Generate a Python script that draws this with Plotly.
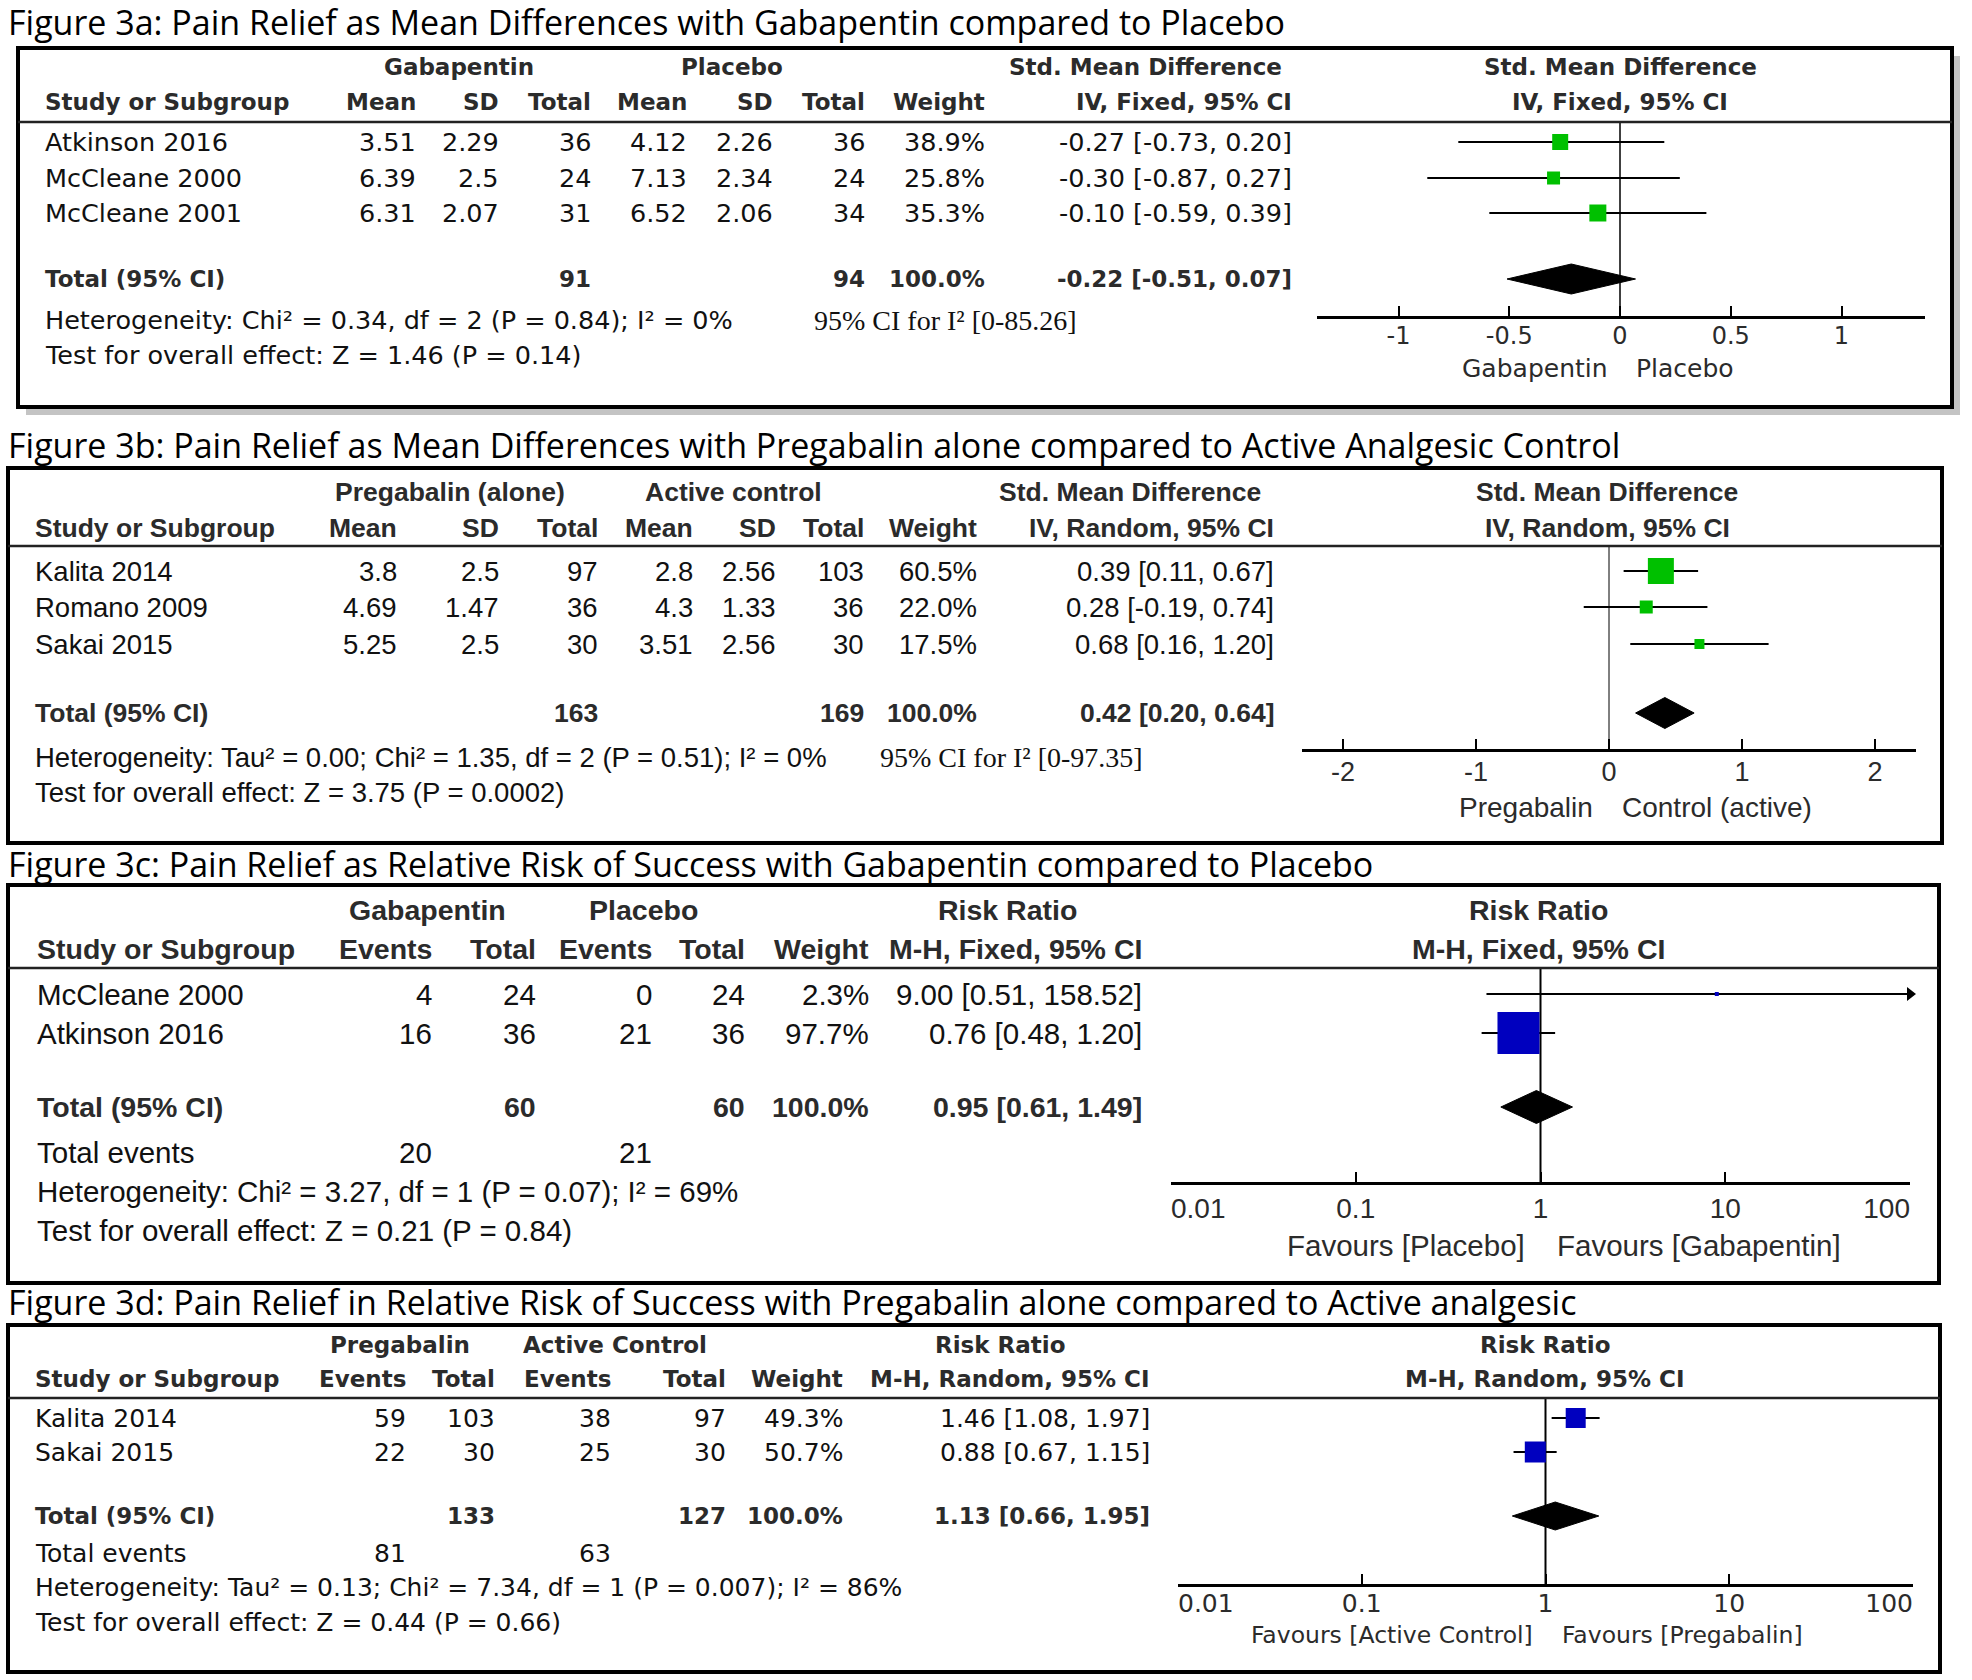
import math
import plotly.graph_objects as go

W, H = 1972, 1680

# ======================= DATA =======================
# Figure 3a
a_title = "Figure 3a: Pain Relief as Mean Differences with Gabapentin compared to Placebo"
a_groups = ["Gabapentin", "Placebo"]
a_cols = ["Mean", "SD", "Total", "Mean", "SD", "Total", "Weight"]
a_measure = "Std. Mean Difference"
a_method = "IV, Fixed, 95% CI"
a_studies = ["Atkinson 2016", "McCleane 2000", "McCleane 2001"]
a_gaba_mean = [3.51, 6.39, 6.31]
a_gaba_sd = [2.29, 2.5, 2.07]
a_gaba_n = [36, 24, 31]
a_plac_mean = [4.12, 7.13, 6.52]
a_plac_sd = [2.26, 2.34, 2.06]
a_plac_n = [36, 24, 34]
a_weight = [38.9, 25.8, 35.3]
a_est = [-0.27, -0.30, -0.10]
a_lo = [-0.73, -0.87, -0.59]
a_hi = [0.20, 0.27, 0.39]
a_total_n = [91, 94]
a_total = [-0.22, -0.51, 0.07]
a_het = "Heterogeneity: Chi² = 0.34, df = 2 (P = 0.84); I² = 0%"
a_test = "Test for overall effect: Z = 1.46 (P = 0.14)"
a_ci_i2 = "95% CI for I² [0-85.26]"
a_ticks = [-1, -0.5, 0, 0.5, 1]
a_ticklabels = ["-1", "-0.5", "0", "0.5", "1"]
a_sides = ["Gabapentin", "Placebo"]

# Figure 3b
b_title = "Figure 3b: Pain Relief as Mean Differences with Pregabalin alone compared to Active Analgesic Control"
b_groups = ["Pregabalin (alone)", "Active control"]
b_cols = ["Mean", "SD", "Total", "Mean", "SD", "Total", "Weight"]
b_measure = "Std. Mean Difference"
b_method = "IV, Random, 95% CI"
b_studies = ["Kalita 2014", "Romano 2009", "Sakai 2015"]
b_preg_mean = [3.8, 4.69, 5.25]
b_preg_sd = [2.5, 1.47, 2.5]
b_preg_n = [97, 36, 30]
b_act_mean = [2.8, 4.3, 3.51]
b_act_sd = [2.56, 1.33, 2.56]
b_act_n = [103, 36, 30]
b_weight = [60.5, 22.0, 17.5]
b_est = [0.39, 0.28, 0.68]
b_lo = [0.11, -0.19, 0.16]
b_hi = [0.67, 0.74, 1.20]
b_total_n = [163, 169]
b_total = [0.42, 0.20, 0.64]
b_het = "Heterogeneity: Tau² = 0.00; Chi² = 1.35, df = 2 (P = 0.51); I² = 0%"
b_test = "Test for overall effect: Z = 3.75 (P = 0.0002)"
b_ci_i2 = "95% CI for I² [0-97.35]"
b_ticks = [-2, -1, 0, 1, 2]
b_ticklabels = ["-2", "-1", "0", "1", "2"]
b_sides = ["Pregabalin", "Control (active)"]

# Figure 3c
c_title = "Figure 3c: Pain Relief as Relative Risk of Success with Gabapentin compared to Placebo"
c_groups = ["Gabapentin", "Placebo"]
c_cols = ["Events", "Total", "Events", "Total", "Weight"]
c_measure = "Risk Ratio"
c_method = "M-H, Fixed, 95% CI"
c_studies = ["McCleane 2000", "Atkinson 2016"]
c_gaba_events = [4, 16]
c_gaba_n = [24, 36]
c_plac_events = [0, 21]
c_plac_n = [24, 36]
c_weight = [2.3, 97.7]
c_est = [9.00, 0.76]
c_lo = [0.51, 0.48]
c_hi = [158.52, 1.20]
c_total_n = [60, 60]
c_total_events = [20, 21]
c_total = [0.95, 0.61, 1.49]
c_het = "Heterogeneity: Chi² = 3.27, df = 1 (P = 0.07); I² = 69%"
c_test = "Test for overall effect: Z = 0.21 (P = 0.84)"
c_ticks = [0.01, 0.1, 1, 10, 100]
c_ticklabels = ["0.01", "0.1", "1", "10", "100"]
c_sides = ["Favours [Placebo]", "Favours [Gabapentin]"]

# Figure 3d
d_title = "Figure 3d: Pain Relief in Relative Risk of Success with Pregabalin alone compared to Active analgesic"
d_groups = ["Pregabalin", "Active Control"]
d_cols = ["Events", "Total", "Events", "Total", "Weight"]
d_measure = "Risk Ratio"
d_method = "M-H, Random, 95% CI"
d_studies = ["Kalita 2014", "Sakai 2015"]
d_preg_events = [59, 22]
d_preg_n = [103, 30]
d_act_events = [38, 25]
d_act_n = [97, 30]
d_weight = [49.3, 50.7]
d_est = [1.46, 0.88]
d_lo = [1.08, 0.67]
d_hi = [1.97, 1.15]
d_total_n = [133, 127]
d_total_events = [81, 63]
d_total = [1.13, 0.66, 1.95]
d_het = "Heterogeneity: Tau² = 0.13; Chi² = 7.34, df = 1 (P = 0.007); I² = 86%"
d_test = "Test for overall effect: Z = 0.44 (P = 0.66)"
d_ticks = [0.01, 0.1, 1, 10, 100]
d_ticklabels = ["0.01", "0.1", "1", "10", "100"]
d_sides = ["Favours [Active Control]", "Favours [Pregabalin]"]

# ======================= STYLE / LAYOUT =======================
HDR = "#2b2b2b"
TXT = "#111111"
GREEN = "#00C000"
BLUE = "#0000BF"
TITLE_FONT = "Open Sans"
TITLE_SIZE = 34

fig = go.Figure()
ann = []
shapes = []


def T(x, y, s, anchor="left", size=22, family="DejaVu Sans", bold=False, color=TXT, xref="x", xshift=0):
    ann.append(dict(x=x, y=y, xref=xref, yref="y", text=f"<b>{s}</b>" if bold else s,
                    showarrow=False, xanchor=anchor, yanchor="middle", xshift=xshift,
                    font=dict(family=family, size=size, color=color)))


def fnum(v):
    return str(v)


def ci(e, l, h):
    return f"{e:.2f} [{l:.2f}, {h:.2f}]"


def box(P):
    x0, y0, x1, y1 = P["box"]
    if P.get("shadow"):
        o = 8
        shapes.append(dict(type="path", xref="x", yref="y", layer="below",
                           path=f"M {x1},{y0+o} L {x1+o},{y0+o} L {x1+o},{y1+o} L {x0+o},{y1+o} L {x0+o},{y1} L {x1},{y1} Z",
                           fillcolor="#c4c4c4", line=dict(width=0)))
    shapes.append(dict(type="rect", xref="x", yref="y", x0=x0, y0=y0, x1=x1, y1=y1,
                       line=dict(color="black", width=P["bw"]), fillcolor="rgba(0,0,0,0)"))
    shapes.append(dict(type="line", xref="x", yref="y", x0=x0, x1=x1, y0=P["hline"], y1=P["hline"],
                       line=dict(color="#222", width=2.5)))


def table(P, title, groups, cols, measure, method, studies, cells, ests, los, his,
          tot_idx, tot_vals, tot_ci, het, test, events=None, ci_i2=None):
    f, s, hs = P["font"], P["size"], P["hsize"]
    T(6, P["title_y"], title, "left", TITLE_SIZE, TITLE_FONT, False, "black")
    for cx, g in zip(P["grp_x"], groups):
        T(cx, P["h1"], g, "center", hs, f, True, HDR)
    T(P["meas"][0], P["h1"], measure, P["meas"][1], hs, f, True, HDR)
    T(P["plot_x"], P["h1"], measure, "center", hs, f, True, HDR)
    T(P["study_x"], P["h2"], "Study or Subgroup", "left", hs, f, True, HDR)
    for cx, c in zip(P["cols"], cols):
        T(cx, P["h2"], c, "right", hs, f, True, HDR)
    T(P["ci_x"], P["h2"], method, "right", hs, f, True, HDR)
    T(P["plot_x"], P["h2"], method, "center", hs, f, True, HDR)
    for i, st in enumerate(studies):
        y = P["rows"][i]
        T(P["study_x"], y, st, "left", s, f)
        for cx, v in zip(P["cols"], cells[i]):
            T(cx, y, v, "right", s, f)
        T(P["ci_x"], y, ci(ests[i], los[i], his[i]), "right", s, f)
    y = P["total"]
    T(P["study_x"], y, "Total (95% CI)", "left", hs, f, True, HDR)
    for k, v in zip(tot_idx, tot_vals):
        T(P["cols"][k], y, v, "right", hs, f, True, HDR)
    T(P["ci_x"], y, ci(*tot_ci), "right", hs, f, True, HDR)
    if events is not None:
        T(P["study_x"], P["events"], "Total events", "left", s, f)
        for k, v in zip(events[0], events[1]):
            T(P["cols"][k], P["events"], str(v), "right", s, f)
    T(P["study_x"], P["het"], het, "left", s, f)
    T(P["study_x"], P["test"], test, "left", s, f)
    if ci_i2:
        T(P["ci_i2_x"], P["het"], ci_i2, "left", 28, "Liberation Serif")


def forest(F, P, ests, los, his, tot, ticks, ticklabels, sides, color):
    xa = F["axis"]
    lo_lim, hi_lim = F["lim"]
    ys = P["rows"]
    # reference (no-effect) line
    fig.add_trace(go.Scatter(x=[F["ref"], F["ref"]], y=[P["hline"], F["axis_y"]], xaxis=xa, yaxis="y",
                             mode="lines", line=dict(color="black", width=F["refw"]),
                             hoverinfo="skip", showlegend=False, cliponaxis=False))
    # CI lines
    xs, yy, arrows_x, arrows_y = [], [], [], []
    for e, l, h, y in zip(ests, los, his, ys):
        hh = min(h, hi_lim)
        ll = max(l, lo_lim)
        xs += [ll, hh, None]
        yy += [y, y, None]
        if h > hi_lim:
            arrows_x.append(hi_lim)
            arrows_y.append(y)
    fig.add_trace(go.Scatter(x=xs, y=yy, xaxis=xa, yaxis="y", mode="lines",
                             line=dict(color="black", width=2), hoverinfo="skip",
                             showlegend=False, cliponaxis=False))
    if arrows_x:
        fig.add_trace(go.Scatter(x=arrows_x, y=arrows_y, xaxis=xa, yaxis="y", mode="markers",
                                 marker=dict(symbol="triangle-right", size=12, color="black", opacity=1),
                                 hoverinfo="skip", showlegend=False, cliponaxis=False))
    # study squares
    fig.add_trace(go.Scatter(x=ests, y=ys, xaxis=xa, yaxis="y", mode="markers",
                             marker=dict(symbol="square", size=F["sizes"], color=color, opacity=1,
                                         line=dict(width=0)),
                             hoverinfo="skip", showlegend=False, cliponaxis=False))
    # pooled diamond
    e, l, h = tot
    ty, dh = P["total"], F["dh"]
    fig.add_trace(go.Scatter(x=[l, e, h, e, l], y=[ty, ty - dh / 2, ty, ty + dh / 2, ty],
                             xaxis=xa, yaxis="y", mode="lines", fill="toself", fillcolor="black",
                             line=dict(color="black", width=1), hoverinfo="skip",
                             showlegend=False, cliponaxis=False))
    # tick labels
    fig.add_trace(go.Scatter(x=ticks, y=[F["tick_y"]] * len(ticks), xaxis=xa, yaxis="y",
                             mode="text", text=ticklabels, textposition=F["tpos"],
                             textfont=dict(family=P["font"], size=P["tsize"], color=HDR),
                             hoverinfo="skip", showlegend=False, cliponaxis=False))
    # favours labels
    T(0, F["side_y"], sides[0], "right", P["ssize"], P["font"], False, HDR, xref=xa, xshift=F["sx"][0])
    T(0, F["side_y"], sides[1], "left", P["ssize"], P["font"], False, HDR, xref=xa, xshift=F["sx"][1])


def axis_layout(F, ticks):
    d = dict(anchor="free", position=1 - F["axis_y"] / H, showline=True, linecolor="black",
             linewidth=2.5, ticks="inside", ticklen=10, tickwidth=2, tickcolor="black",
             tickvals=ticks, showticklabels=False, showgrid=False, zeroline=False, fixedrange=True)
    if F["log"]:
        p0, p1 = F["px"]
        d.update(type="log", range=[-2, 2], domain=[p0 / W, p1 / W])
    else:
        z, u, p0, p1 = F["px"]
        d.update(type="linear", range=[(p0 - z) / u, (p1 - z) / u], domain=[p0 / W, p1 / W])
    return d


# ---------- panel styles ----------
PA = dict(font="DejaVu Sans", size=25.5, hsize=23, tsize=24, ssize=25,
          title_y=22, box=(18, 48, 1952, 407), bw=4, hline=122, shadow=True,
          h1=67, h2=102, rows=[142, 178, 213], total=279, het=320, test=355, study_x=43,
          cols=[418, 501, 593, 689, 775, 867, 987], ci_x=1294, grp_x=[459, 732],
          meas=(1284, "right"), plot_x=1620, ci_i2_x=812)
PB = dict(font="Liberation Sans", size=27.5, hsize=26.5, tsize=27, ssize=28,
          title_y=445, box=(8, 468, 1942, 843), bw=4, hline=546,
          h1=492, h2=528, rows=[571, 607, 644], total=713, het=757, test=792, study_x=33,
          cols=[399, 501, 600, 695, 778, 866, 979], ci_x=1276, grp_x=[450, 733],
          meas=(1263, "right"), plot_x=1607, ci_i2_x=878)
PC = dict(font="Liberation Sans", size=29.5, hsize=28.5, tsize=28, ssize=29.5,
          title_y=864, box=(8, 885, 1939, 1283), bw=4, hline=968,
          h1=910, h2=949, rows=[994, 1033], total=1107, events=1152, het=1191, test=1230, study_x=35,
          cols=[434, 538, 654, 747, 871], ci_x=1144, grp_x=[427, 643],
          meas=(1007, "center"), plot_x=1538)
PD = dict(font="DejaVu Sans", size=25, hsize=23, tsize=25, ssize=23.5,
          title_y=1302, box=(8, 1325, 1940, 1672), bw=4, hline=1398,
          h1=1345, h2=1379, rows=[1418, 1452], total=1516, events=1553, het=1587, test=1622, study_x=33,
          cols=[408, 497, 613, 728, 845], ci_x=1152, grp_x=[400, 615],
          meas=(1000, "center"), plot_x=1545)

FA = dict(axis="x2", log=False, px=(1620, 221.5, 1317, 1925), axis_y=317, ref=0, refw=1.5,
          lim=(-1.368, 1.377), sizes=[16, 13, 17], dh=30, tick_y=338, side_y=368, sx=(-10, 14),
          tpos="middle center")
FB = dict(axis="x3", log=False, px=(1609, 133, 1302, 1916), axis_y=750, ref=0, refw=1,
          lim=(-2.3, 2.3), sizes=[26, 13, 10], dh=31, tick_y=774, side_y=807, sx=(-14, 11),
          tpos="middle center")
FC = dict(axis="x4", log=True, px=(1171, 1910), axis_y=1183, ref=1, refw=2,
          lim=(0.01, 100), sizes=[4, 42], dh=33, tick_y=1211, side_y=1245, sx=(-14, 14),
          tpos=["middle right", "middle center", "middle center", "middle center", "middle left"])
FD = dict(axis="x5", log=True, px=(1178, 1913), axis_y=1585, ref=1, refw=2,
          lim=(0.01, 100), sizes=[20, 21], dh=28, tick_y=1606, side_y=1635, sx=(-11, 14),
          tpos=["middle right", "middle center", "middle center", "middle center", "middle left"])

# ---------- build panels ----------
for P in (PA, PB, PC, PD):
    box(P)

a_cells = [[fnum(a_gaba_mean[i]), fnum(a_gaba_sd[i]), str(a_gaba_n[i]), fnum(a_plac_mean[i]),
            fnum(a_plac_sd[i]), str(a_plac_n[i]), f"{a_weight[i]:.1f}%"] for i in range(len(a_studies))]
table(PA, a_title, a_groups, a_cols, a_measure, a_method, a_studies, a_cells, a_est, a_lo, a_hi,
      [2, 5, 6], [str(a_total_n[0]), str(a_total_n[1]), "100.0%"], a_total, a_het, a_test, ci_i2=a_ci_i2)
forest(FA, PA, a_est, a_lo, a_hi, a_total, a_ticks, a_ticklabels, a_sides, GREEN)

b_cells = [[fnum(b_preg_mean[i]), fnum(b_preg_sd[i]), str(b_preg_n[i]), fnum(b_act_mean[i]),
            fnum(b_act_sd[i]), str(b_act_n[i]), f"{b_weight[i]:.1f}%"] for i in range(len(b_studies))]
table(PB, b_title, b_groups, b_cols, b_measure, b_method, b_studies, b_cells, b_est, b_lo, b_hi,
      [2, 5, 6], [str(b_total_n[0]), str(b_total_n[1]), "100.0%"], b_total, b_het, b_test, ci_i2=b_ci_i2)
forest(FB, PB, b_est, b_lo, b_hi, b_total, b_ticks, b_ticklabels, b_sides, GREEN)

c_cells = [[str(c_gaba_events[i]), str(c_gaba_n[i]), str(c_plac_events[i]), str(c_plac_n[i]),
            f"{c_weight[i]:.1f}%"] for i in range(len(c_studies))]
table(PC, c_title, c_groups, c_cols, c_measure, c_method, c_studies, c_cells, c_est, c_lo, c_hi,
      [1, 3, 4], [str(c_total_n[0]), str(c_total_n[1]), "100.0%"], c_total, c_het, c_test,
      events=([0, 2], c_total_events))
forest(FC, PC, c_est, c_lo, c_hi, c_total, c_ticks, c_ticklabels, c_sides, BLUE)

d_cells = [[str(d_preg_events[i]), str(d_preg_n[i]), str(d_act_events[i]), str(d_act_n[i]),
            f"{d_weight[i]:.1f}%"] for i in range(len(d_studies))]
table(PD, d_title, d_groups, d_cols, d_measure, d_method, d_studies, d_cells, d_est, d_lo, d_hi,
      [1, 3, 4], [str(d_total_n[0]), str(d_total_n[1]), "100.0%"], d_total, d_het, d_test,
      events=([0, 2], d_total_events))
forest(FD, PD, d_est, d_lo, d_hi, d_total, d_ticks, d_ticklabels, d_sides, BLUE)

fig.update_layout(
    width=W, height=H, margin=dict(l=0, r=0, t=0, b=0),
    paper_bgcolor="white", plot_bgcolor="rgba(0,0,0,0)", showlegend=False,
    xaxis=dict(domain=[0, 1], range=[0, W], visible=False, fixedrange=True),
    yaxis=dict(domain=[0, 1], range=[H, 0], visible=False, fixedrange=True),
    xaxis2=axis_layout(FA, a_ticks),
    xaxis3=axis_layout(FB, b_ticks),
    xaxis4=axis_layout(FC, c_ticks),
    xaxis5=axis_layout(FD, d_ticks),
    annotations=ann, shapes=shapes,
)

fig.write_html("out.html", config={"displayModeBar": False},
               post_script="document.body.style.margin='0';document.body.style.padding='0';")
